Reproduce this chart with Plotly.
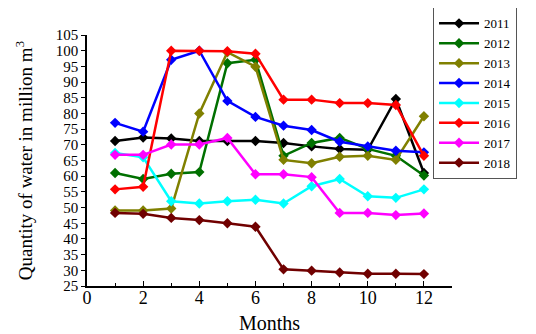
import plotly.graph_objects as go

months = list(range(1, 13))
years = ["2011", "2012", "2013", "2014", "2015", "2016", "2017", "2018"]
colors = ["#000000", "#007000", "#808000", "#0000FF", "#00FFFF", "#FF0000", "#FF00FF", "#700000"]

v2011 = [71.2, 72.3, 72.0, 71.2, 71.2, 71.2, 70.6, 69.5, 68.7, 68.4, 84.6, 61.0]
v2012 = [61.0, 59.1, 60.8, 61.3, 96.0, 97.1, 66.5, 70.6, 72.2, 68.7, 66.5, 60.2]
v2013 = [49.1, 49.1, 49.7, 80.0, 99.5, 94.9, 65.2, 64.1, 66.2, 66.5, 65.2, 79.1]
v2014 = [77.0, 74.2, 97.1, 100.0, 84.0, 78.9, 76.1, 74.7, 71.0, 69.5, 68.1, 67.6]
v2015 = [67.4, 66.0, 52.0, 51.3, 52.0, 52.5, 51.3, 56.8, 59.1, 53.6, 53.1, 55.8]
v2016 = [55.8, 56.6, 100.0, 100.0, 99.8, 99.0, 84.4, 84.4, 83.3, 83.3, 82.7, 66.5]
v2017 = [66.8, 66.8, 70.1, 70.1, 72.2, 60.6, 60.6, 59.7, 48.3, 48.3, 47.6, 48.1]
v2018 = [48.3, 48.0, 46.7, 46.0, 45.0, 43.9, 30.3, 29.9, 29.3, 28.9, 28.9, 28.8]
series = [v2011, v2012, v2013, v2014, v2015, v2016, v2017, v2018]

x_ticks = [0, 2, 4, 6, 8, 10, 12]
y_ticks = list(range(25, 106, 5))

fig = go.Figure()
for name, vals, col in zip(years, series, colors):
    fig.add_trace(go.Scatter(
        x=months, y=vals, name=name, mode="lines+markers",
        line=dict(color=col, width=2.5),
        marker=dict(symbol="diamond", size=8, color=col),
    ))

font = "Liberation Serif, Times New Roman, serif"
fig.update_layout(
    width=528, height=326,
    margin=dict(l=79, r=84, t=27, b=48, autoexpand=False),
    paper_bgcolor="white", plot_bgcolor="white",
    font=dict(family=font, color="black", size=16),
    showlegend=True,
    legend=dict(
        x=0.948, y=1.11, xanchor="left", yanchor="top",
        bordercolor="#555555", borderwidth=1,
        font=dict(family=font, size=13, color="black"),
        itemwidth=40, tracegroupgap=0, maxheight=400,
        entrywidth=70, entrywidthmode="pixels",
    ),
    xaxis=dict(
        range=[0, 13], tickvals=x_ticks, ticktext=[str(t) for t in x_ticks],
        showgrid=False, zeroline=False, showline=True, linecolor="black", linewidth=1.5,
        ticks="inside", ticklen=5, tickcolor="black",
        minor=dict(dtick=1, tick0=0, ticks="inside", ticklen=3, tickcolor="black"),
        title=dict(text="Months", font=dict(size=20), standoff=12),
        tickfont=dict(size=18), ticklabelstandoff=-5,
    ),
    yaxis=dict(
        range=[25, 105], tickvals=y_ticks, ticktext=[str(t) for t in y_ticks],
        showgrid=False, zeroline=False, showline=True, linecolor="black", linewidth=1.5,
        ticks="outside", ticklen=4, tickcolor="black",
        title=dict(text="Quantity of water in million m<sup>3</sup>", font=dict(size=19), standoff=18),
        tickfont=dict(size=15),
    ),
)

fig.write_html("out.html")
